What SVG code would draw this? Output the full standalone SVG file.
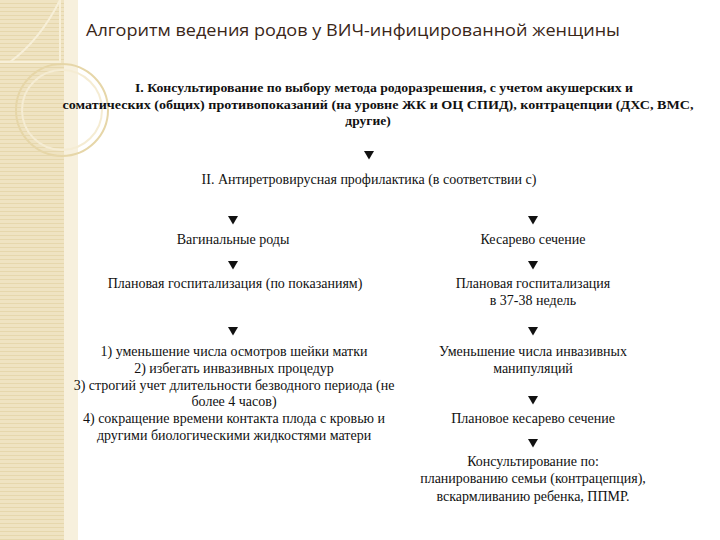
<svg xmlns="http://www.w3.org/2000/svg" width="720" height="540" viewBox="0 0 720 540">
<defs>
<style>
.t{font-family:'Liberation Serif','DejaVu Serif',serif;font-size:14px;fill:#111;text-anchor:middle}
.b{font-family:'Liberation Serif','DejaVu Serif',serif;font-size:13.5px;font-weight:bold;fill:#111;text-anchor:middle}
.h{font-family:'Open Sans','Liberation Sans',sans-serif;font-size:17px;fill:#3a2618}
.arr{fill:#111}
</style>
<pattern id="stripes" width="4" height="4" patternUnits="userSpaceOnUse">
<rect width="4" height="4" fill="#efe3c2"/>
<rect y="3" width="4" height="1" fill="#e6d7ac"/>
</pattern>
<path id="tri" d="M-5,0 L5,0 L0,8.5 Z"/>
</defs>
<rect width="720" height="540" fill="#ffffff"/>
<g id="strip">
<rect x="0" y="0" width="64" height="540" fill="url(#stripes)"/>
<rect x="64" y="0" width="14" height="540" fill="#f7f0dd"/>
<path d="M0,62 L60,62 L60,0" fill="none" stroke="#f7efd8" stroke-width="2"/>
<path d="M60,0 Q40,40 10,62" fill="none" stroke="#f7efd8" stroke-width="2"/>
<circle cx="62" cy="110" r="46" fill="none" stroke="#e6d6a8" stroke-width="2"/>
<circle cx="62" cy="110" r="40" fill="none" stroke="#f5ecd3" stroke-width="2"/>
</g>
<text class="h" x="86" y="36" textLength="534" lengthAdjust="spacingAndGlyphs">Алгоритм ведения родов у ВИЧ-инфицированной женщины</text>
<g id="n1">
<text class="b" x="384" y="92" textLength="498" lengthAdjust="spacingAndGlyphs">I. Консультирование по выбору метода родоразрешения, с учетом акушерских и</text>
<text class="b" x="378" y="109" textLength="631" lengthAdjust="spacingAndGlyphs">соматических (общих) противопоказаний (на уровне ЖК и ОЦ СПИД), контрацепции (ДХС, ВМС,</text>
<text class="b" x="368" y="125">другие)</text>
</g>
<g id="n2"><text class="t" x="369" y="184">II. Антиретровирусная профилактика (в соответствии с)</text></g>
<g id="n3"><text class="t" x="233" y="244">Вагинальные роды</text></g>
<g id="n4"><text class="t" x="533" y="244">Кесарево сечение</text></g>
<g id="n5"><text class="t" x="235" y="288">Плановая госпитализация (по показаниям)</text></g>
<g id="n6">
<text class="t" x="533" y="288">Плановая госпитализация</text>
<text class="t" x="533" y="305">в 37-38 недель</text>
</g>
<g id="n7">
<text class="t" x="234" y="356">1) уменьшение числа осмотров шейки матки</text>
<text class="t" x="234" y="373">2) избегать инвазивных процедур</text>
<text class="t" x="234" y="390">3) строгий учет длительности безводного периода (не</text>
<text class="t" x="234" y="406">более 4 часов)</text>
<text class="t" x="234" y="423">4) сокращение времени контакта плода с кровью и</text>
<text class="t" x="234" y="440">другими биологическими жидкостями матери</text>
</g>
<g id="n8">
<text class="t" x="533" y="356">Уменьшение числа инвазивных</text>
<text class="t" x="533" y="373">манипуляций</text>
</g>
<g id="n9"><text class="t" x="533" y="423">Плановое кесарево сечение</text></g>
<g id="n10">
<text class="t" x="533" y="466">Консультирование по:</text>
<text class="t" x="533" y="483">планированию семьи (контрацепция),</text>
<text class="t" x="533" y="501">вскармливанию ребенка, ППМР.</text>
</g>
<g id="connectors" class="arr">
<use href="#tri" x="369" y="151"/>
<use href="#tri" x="233" y="216"/>
<use href="#tri" x="533" y="216"/>
<use href="#tri" x="233" y="261"/>
<use href="#tri" x="533" y="261"/>
<use href="#tri" x="233" y="327"/>
<use href="#tri" x="533" y="327"/>
<use href="#tri" x="533" y="396"/>
<use href="#tri" x="533" y="439"/>
</g>
</svg>
